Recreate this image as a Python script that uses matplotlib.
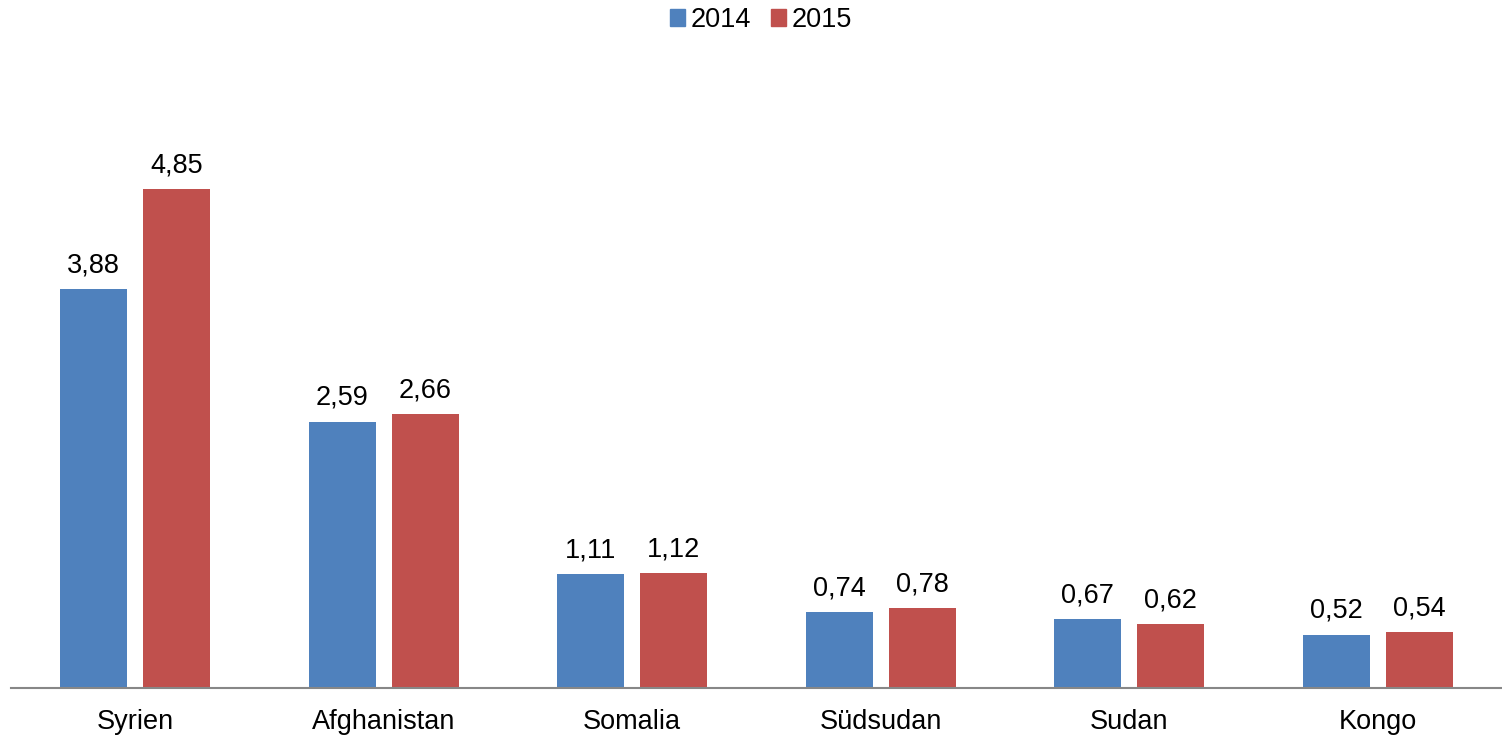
import numpy as np
import matplotlib.pyplot as plt
from matplotlib.patches import Patch

plt.rcParams['font.family'] = ['Liberation Sans', 'DejaVu Sans']

countries = ["Syrien", "Afghanistan", "Somalia", "Südsudan", "Sudan", "Kongo"]
values_2014 = [3.88, 2.59, 1.11, 0.74, 0.67, 0.52]
values_2015 = [4.85, 2.66, 1.12, 0.78, 0.62, 0.54]
years = ["2014", "2015"]

blue = "#4F81BD"
red = "#C0504D"
fs = 19.5

fig = plt.figure(figsize=(15.02, 7.35), dpi=100)
ax = fig.add_axes([11 / 1502, 47 / 735, 1491 / 1502, 617 / 735])

x = np.arange(len(countries))
w = 0.27
off = 0.167
b1 = ax.bar(x - off, values_2014, w, color=blue)
b2 = ax.bar(x + off, values_2015, w, color=red)

for bars, vals in ((b1, values_2014), (b2, values_2015)):
    for rect, v in zip(bars, vals):
        ax.annotate(f"{v:.2f}".replace(".", ","),
                    (rect.get_x() + rect.get_width() / 2, rect.get_height()),
                    xytext=(0, 12), textcoords="offset points",
                    ha="center", va="baseline", fontsize=fs)

ax.set_xlim(-0.5, len(countries) - 0.5)
ax.set_ylim(0, 6)
ax.set_xticks(x)
ax.set_xticklabels(countries, fontsize=fs)
ax.tick_params(axis="x", length=0, pad=15)
ax.set_yticks([])
for s in ("top", "right", "left"):
    ax.spines[s].set_visible(False)
ax.spines["bottom"].set_color("#878787")
ax.spines["bottom"].set_linewidth(1.5)

handles = [Patch(color=blue), Patch(color=red)]
fig.legend(handles, years, loc="center", bbox_to_anchor=(761 / 1502, 1 - 20 / 735),
           ncol=2, frameon=False, fontsize=fs, handlelength=0.55, handleheight=0.55,
           handletextpad=0.2, columnspacing=0.75, borderaxespad=0)

fig.savefig("out.png", dpi=100)
